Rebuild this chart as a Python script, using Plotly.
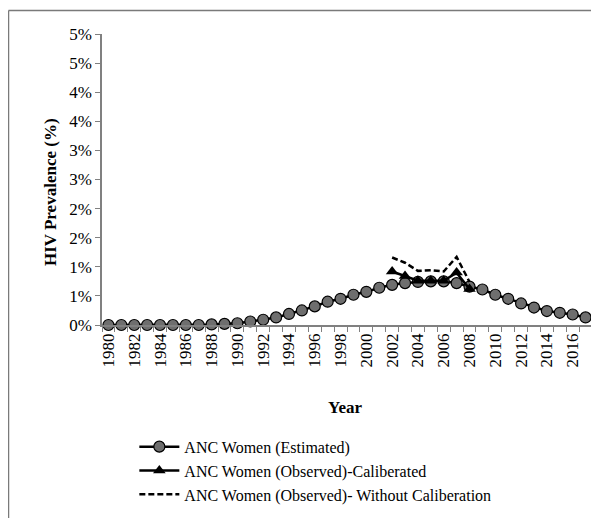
import plotly.graph_objects as go

years = list(range(1980, 2018))
estimated = [0.00, 0.00, 0.00, 0.00, 0.00, 0.00, 0.00, 0.00, 0.01, 0.02,
             0.03, 0.06, 0.09, 0.13, 0.19, 0.25, 0.32, 0.40, 0.45, 0.52,
             0.57, 0.64, 0.69, 0.72, 0.74, 0.75, 0.75, 0.72, 0.66, 0.61,
             0.52, 0.45, 0.37, 0.30, 0.24, 0.21, 0.18, 0.13]
obs_years = [2002, 2003, 2004, 2005, 2006, 2007, 2008]
calibrated = [0.92, 0.84, 0.76, 0.76, 0.76, 0.90, 0.62]
without_cal = [1.16, 1.07, 0.93, 0.94, 0.92, 1.17, 0.74]

y_tickvals = [0, 0.5, 1.0, 1.5, 2.0, 2.5, 3.0, 3.5, 4.0, 4.5, 5.0]
y_ticktext = ["0%", "1%", "1%", "2%", "2%", "3%", "3%", "4%", "4%", "5%", "5%"]
x_tickvals = list(range(1980, 2018, 2))

FONT = "Liberation Serif"

fig = go.Figure()
fig.add_trace(go.Scatter(
    x=years, y=estimated, mode="lines+markers", cliponaxis=False,
    name="ANC Women (Estimated)", legendgroup="a",
    line=dict(color="black", width=2.5),
    marker=dict(symbol="circle", size=11, color="#6e6e6e",
                line=dict(color="black", width=1.2)),
))
fig.add_trace(go.Scatter(
    x=obs_years, y=calibrated, mode="lines+markers", cliponaxis=False,
    name="ANC Women (Observed)-Caliberated", legendgroup="b",
    line=dict(color="black", width=2.5),
    marker=dict(symbol="triangle-up", size=11, color="black"),
))
fig.add_trace(go.Scatter(
    x=obs_years, y=without_cal, mode="lines", cliponaxis=False,
    name="ANC Women (Observed)- Without Caliberation", legendgroup="c",
    line=dict(color="black", width=2.5, dash="6px,3px"),
))

fig.update_layout(
    width=591, height=510,
    margin=dict(l=94, r=7, t=26, b=193, autoexpand=False),
    paper_bgcolor="white", plot_bgcolor="white",
    font=dict(family=FONT, color="black", size=15),
    showlegend=True,
    legend=dict(x=0.066, y=-0.36, xanchor="left", yanchor="top",
                font=dict(family=FONT, size=16, color="black"),
                tracegroupgap=0, itemwidth=40, bgcolor="rgba(0,0,0,0)"),
    xaxis=dict(range=[1979.5, 2017.5], tickmode="array", tickvals=x_tickvals,
               ticktext=[str(v) for v in x_tickvals], tickangle=-90,
               ticks="", showline=True, linecolor="#808080", linewidth=1.5,
               showgrid=False, zeroline=False, automargin=False,
               tickfont=dict(family=FONT, size=17, color="black"),
               minor=dict(ticks="outside", tick0=1979.5, dtick=1, ticklen=5,
                          tickcolor="#808080", tickwidth=1, showgrid=False)),
    yaxis=dict(range=[0, 5], tickmode="array", tickvals=y_tickvals,
               ticktext=y_ticktext, ticks="outside", ticklen=5,
               tickcolor="#808080", showline=True, linecolor="#808080",
               linewidth=1.5, showgrid=False, zeroline=False, automargin=False,
               tickfont=dict(family=FONT, size=17, color="black")),
    annotations=[
        dict(text="<b>HIV Prevalence (%)</b>", xref="paper", yref="paper",
             x=-0.106, y=0.457, textangle=-90, showarrow=False,
             font=dict(family=FONT, size=17, color="black"),
             xanchor="center", yanchor="middle"),
        dict(text="<b>Year</b>", xref="paper", yref="paper",
             x=0.496, y=-0.282, showarrow=False,
             font=dict(family=FONT, size=17, color="black"),
             xanchor="center", yanchor="middle"),
    ],
    shapes=[
        dict(type="line", xref="paper", yref="paper",
             x0=(0.5 - 94) / 490, x1=1.2, y0=(317 - 2.5) / 291, y1=(317 - 2.5) / 291,
             line=dict(color="#7a7a7a", width=1.5)),
        dict(type="line", xref="paper", yref="paper",
             x0=(0.5 - 94) / 490, x1=(0.5 - 94) / 490, y0=(317 - 2.5) / 291, y1=-1,
             line=dict(color="#7a7a7a", width=1.5)),
    ],
)

fig.write_html("out.html")
